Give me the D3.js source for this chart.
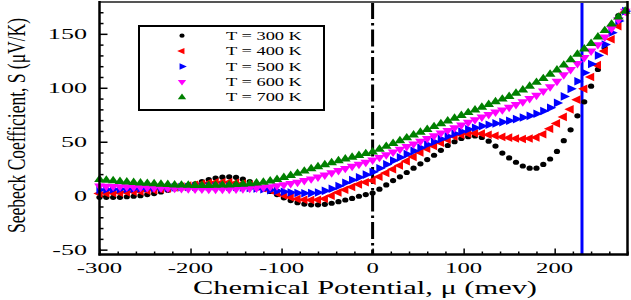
<!DOCTYPE html>
<html>
<head>
<meta charset="utf-8">
<script src="https://d3js.org/d3.v7.min.js"></script>
<style>
body { margin: 0; background: #fff; }
text { font-family: "Liberation Serif", "Times New Roman", serif; fill: #000; }
</style>
</head>
<body>
<div id="chart-area"></div>
<script>

// chemical potential (meV)
var mu = [-300, -292.5, -285, -277.5, -270, -262.5, -255, -247.5, -240, -232.5,
    -225, -217.5, -210, -202.5, -195, -187.5, -180, -172.5, -165, -157.5,
    -150, -142.5, -135, -127.5, -120, -112.5, -105, -97.5, -90, -82.5,
    -75, -67.5, -60, -52.5, -45, -37.5, -30, -22.5, -15, -7.5,
    0, 7.5, 15, 22.5, 30, 37.5, 45, 52.5, 60, 67.5,
    75, 82.5, 90, 97.5, 105, 112.5, 120, 127.5, 135, 142.5,
    150, 157.5, 165, 172.5, 180, 187.5, 195, 202.5, 210, 217.5,
    225, 232.5, 240, 247.5, 255, 262.5, 270, 277.5];

// Seebeck coefficient (uV/K) for each temperature
var s300 = [-1.5, -1.5, -1.5, -1.5, -1, -0.5, 0, 1, 2, 3.5,
    5, 6.5, 8, 9.5, 11, 13, 15, 16.3, 17.2, 17.5,
    17, 15.3, 13, 10, 7, 4, 1, -2, -4.5, -6.5,
    -7.8, -8.5, -8.5, -8, -7, -5.5, -4, -2.5, -0.5, 1,
    2.5, 6, 10, 14, 17.5, 21.5, 25.5, 29.5, 33.5, 37.5,
    42, 46.5, 50, 53, 54.7, 55.3, 54, 50.5, 46, 39.5,
    35, 31, 27.5, 25.5, 25.5, 29, 34, 41, 51, 61,
    74, 87, 101.5, 117, 137, 157, 167, 172];
var s400 = [2, 2.2, 2.5, 2.8, 3.2, 3.6, 4, 4.6, 5.2, 6,
    6.8, 7.6, 8.5, 9.3, 10.2, 11, 11.8, 12.3, 12.5, 12.5,
    12, 11.2, 10, 8.5, 7, 5, 2.5, 0.5, -1.5, -3,
    -3.8, -4, -3.8, -2.8, 0, 3, 5.5, 8, 10.5, 12.5,
    14, 17.5, 21, 24.5, 28, 32, 36, 40, 43.5, 46,
    49, 52, 55, 56.5, 57.5, 57.8, 57.5, 56.5, 55.5, 54.5,
    53.8, 53, 52.5, 53, 54, 57, 62, 67, 73, 80,
    89, 99, 110, 121, 134, 145, 157, 170];
var s500 = [5.5, 5.7, 5.9, 6.1, 6.3, 6.5, 6.7, 6.9, 7.1, 7.3,
    7.5, 7.7, 7.9, 8.1, 8.3, 8.5, 8.6, 8.7, 8.6, 8.4,
    8, 7.6, 7.1, 6.6, 6, 5.2, 4.4, 3.6, 3, 2.5,
    2.3, 2.4, 3, 4.5, 6.5, 9, 12, 14.5, 17, 19.5,
    22, 25.5, 29, 32.5, 35.5, 38.5, 41.5, 44.5, 47.5, 50,
    52.5, 55, 57.5, 59.5, 61.5, 63, 64.5, 65.8, 67, 68.2,
    69.5, 71, 72.5, 74, 76, 78.5, 81.5, 86, 92, 99,
    106, 114, 122, 130, 140, 151, 162, 171];
var s600 = [9, 8.8, 8.6, 8.4, 8.2, 8, 7.8, 7.6, 7.4, 7.2,
    7, 6.8, 6.6, 6.4, 6.2, 6.1, 6, 6, 6, 6,
    6.2, 6.5, 6.8, 7.2, 7.7, 8.4, 9.2, 10.2, 11.3, 12.5,
    14, 15.6, 17.3, 19.2, 21.3, 23.3, 25.3, 27.3, 29.2, 31,
    33, 35.5, 38, 40.5, 43, 45.5, 48, 50.5, 53, 55.5,
    58, 60.5, 63, 65.5, 68, 70.5, 73, 75.3, 77.5, 79.5,
    82, 84.5, 87, 90, 93, 97, 101, 106, 112, 117,
    122.5, 128, 134, 140, 147, 155, 163, 171];
var s700 = [15, 14.4, 13.8, 13.2, 12.7, 12.2, 11.8, 11.4, 11, 10.6,
    10.3, 10, 9.8, 9.6, 9.5, 9.5, 9.5, 9.6, 9.8, 10,
    10.3, 10.7, 11.1, 11.7, 12.5, 13.6, 15, 16.8, 18.7, 20.7,
    22.8, 24.9, 26.8, 28.7, 30.5, 32.3, 34, 35.7, 37.3, 39,
    40.5, 43, 45.7, 48.3, 51, 53.6, 56.2, 58.8, 61.4, 64,
    66.6, 69.2, 71.8, 74.4, 77, 79.5, 82, 84.5, 87, 89.5,
    92, 95, 98, 101.5, 105, 108.5, 112.5, 116.5, 121, 126,
    131, 136, 141, 147, 153, 159, 165.5, 171];

var seriesNames = ["T = 300 K", "T = 400 K", "T = 500 K", "T = 600 K", "T = 700 K"];
var xTicks = [-300, -200, -100, 0, 100, 200];
var yTicks = [-50, 0, 50, 100, 150];
var fermiLevel = 0;     // dash-dot line
var markLine = 230;     // blue line

var width = 631, height = 300;

var svg = d3.select("#chart-area")
    .append("svg")
    .attr("width", width)
    .attr("height", height);

var x = d3.scaleLinear().domain([-300, 280]).range([99.5, 627.5]);
var y = d3.scaleLinear().domain([-54.5, 179.5]).range([254.5, 2]);

var series = [
    { name: seriesNames[0], values: s300, color: "#000000", shape: "dot", rot: 0 },
    { name: seriesNames[1], values: s400, color: "#ff0000", shape: "tri", rot: -90 },
    { name: seriesNames[2], values: s500, color: "#0000ff", shape: "tri", rot: 90 },
    { name: seriesNames[3], values: s600, color: "#ff00ff", shape: "tri", rot: 180 },
    { name: seriesNames[4], values: s700, color: "#008000", shape: "tri", rot: 0 }
];

// minor / major ticks, pointing inward
var xMinor = d3.range(-300, 281, 20).filter(function(d) { return d % 100 != 0; });
var yMinor = d3.range(-50, 180, 10).filter(function(d) { return d % 50 != 0; });

svg.append("g")
    .attr("transform", "translate(0," + y.range()[0] + ")")
    .call(d3.axisBottom(x).tickValues(xMinor).tickSize(-3).tickFormat(""))
    .call(function(g) { g.select(".domain").remove(); });
svg.append("g")
    .attr("transform", "translate(0," + y.range()[0] + ")")
    .call(d3.axisBottom(x).tickValues(xTicks).tickSize(-6).tickFormat(""))
    .call(function(g) { g.select(".domain").remove(); });
svg.append("g")
    .attr("transform", "translate(" + x.range()[0] + ",0)")
    .call(d3.axisLeft(y).tickValues(yMinor).tickSize(-4).tickFormat(""))
    .call(function(g) { g.select(".domain").remove(); });
svg.append("g")
    .attr("transform", "translate(" + x.range()[0] + ",0)")
    .call(d3.axisLeft(y).tickValues(yTicks).tickSize(-8).tickFormat(""))
    .call(function(g) { g.select(".domain").remove(); });
svg.selectAll(".tick line").attr("stroke", "#000").attr("stroke-width", 1.5);

// tick labels (stretched like the original figure)
svg.append("g").selectAll("text")
    .data(xTicks)
    .enter().append("text")
        .attr("transform", function(d) { return "translate(" + x(d) + ",273) scale(1.65,1)"; })
        .attr("text-anchor", "middle")
        .style("font-size", "15px")
        .text(function(d) { return d; });

svg.append("g").selectAll("text")
    .data(yTicks)
    .enter().append("text")
        .attr("transform", function(d) { return "translate(87," + (y(d) + 5) + ") scale(1.8,1)"; })
        .attr("text-anchor", "end")
        .style("font-size", "14.5px")
        .text(function(d) { return d; });

// axis titles
svg.append("text")
    .attr("x", 193)
    .attr("y", 294)
    .attr("textLength", 344)
    .attr("lengthAdjust", "spacingAndGlyphs")
    .style("font-size", "18px")
    .text("Chemical Potential, \u03bc (mev)");

svg.append("text")
    .attr("transform", "translate(25,125.5) scale(1.45,1) rotate(-90)")
    .attr("text-anchor", "middle")
    .attr("textLength", 215)
    .attr("lengthAdjust", "spacingAndGlyphs")
    .style("font-size", "18px")
    .text("Seebeck Coefficient, S (\u03bcV/K)");

// reference lines
svg.append("line")
    .attr("x1", x(fermiLevel)).attr("x2", x(fermiLevel))
    .attr("y1", y.range()[1]).attr("y2", y.range()[0])
    .attr("stroke", "#000")
    .attr("stroke-width", 3)
    .attr("stroke-dasharray", "17,4,2.5,4");

svg.append("line")
    .attr("x1", x(markLine)).attr("x2", x(markLine))
    .attr("y1", y.range()[1]).attr("y2", y.range()[0])
    .attr("stroke", "#0000ff")
    .attr("stroke-width", 3);

// markers
var tri = d3.symbol().type(d3.symbolTriangle).size(32);

series.forEach(function(s) {
    var pts = d3.zip(mu, s.values);
    var g = svg.append("g").attr("fill", s.color);
    if (s.shape == "dot") {
        g.selectAll("ellipse")
            .data(pts)
            .enter().append("ellipse")
                .attr("cx", function(d) { return x(d[0]); })
                .attr("cy", function(d) { return y(d[1]); })
                .attr("rx", 3.1)
                .attr("ry", 2.6);
    } else {
        g.selectAll("path")
            .data(pts)
            .enter().append("path")
                .attr("d", tri)
                .attr("transform", function(d) {
                    return "translate(" + x(d[0]) + "," + y(d[1]) + ") scale(1.25,1) rotate(" + s.rot + ")";
                });
    }
});

// frame
svg.append("line").attr("x1", 99.5).attr("x2", 627.5).attr("y1", 2).attr("y2", 2)
    .attr("stroke", "#555").attr("stroke-width", 2);
svg.append("line").attr("x1", 99.5).attr("x2", 99.5).attr("y1", 1).attr("y2", 255.5)
    .attr("stroke", "#000").attr("stroke-width", 2.5);
svg.append("line").attr("x1", 98.5).attr("x2", 628.5).attr("y1", 254.5).attr("y2", 254.5)
    .attr("stroke", "#000").attr("stroke-width", 2.5);
svg.append("line").attr("x1", 627.5).attr("x2", 627.5).attr("y1", 1).attr("y2", 255.5)
    .attr("stroke", "#000").attr("stroke-width", 2.5);

// legend
var legend = svg.append("g");
legend.append("rect")
    .attr("x", 139).attr("y", 26)
    .attr("width", 185).attr("height", 84)
    .attr("fill", "#fff")
    .attr("stroke", "#000")
    .attr("stroke-width", 2);

var legTri = d3.symbol().type(d3.symbolTriangle).size(18);

var row = legend.selectAll(".row")
    .data(series)
    .enter().append("g")
        .attr("class", "row")
        .attr("transform", function(d, i) { return "translate(0," + (35.7 + i * 15.4) + ")"; });

row.each(function(s) {
    var r = d3.select(this);
    if (s.shape == "dot") {
        r.append("ellipse").attr("cx", 182).attr("cy", 0).attr("rx", 2.6).attr("ry", 2.1)
            .attr("fill", s.color);
    } else {
        r.append("path").attr("d", legTri)
            .attr("transform", "translate(182,0) scale(1.3,1) rotate(" + s.rot + ")")
            .attr("fill", s.color);
    }
});

row.append("text")
    .attr("transform", "translate(226,4) scale(1.6,1)")
    .style("font-size", "11.5px")
    .text(function(d) { return d.name; });

</script>
</body>
</html>
